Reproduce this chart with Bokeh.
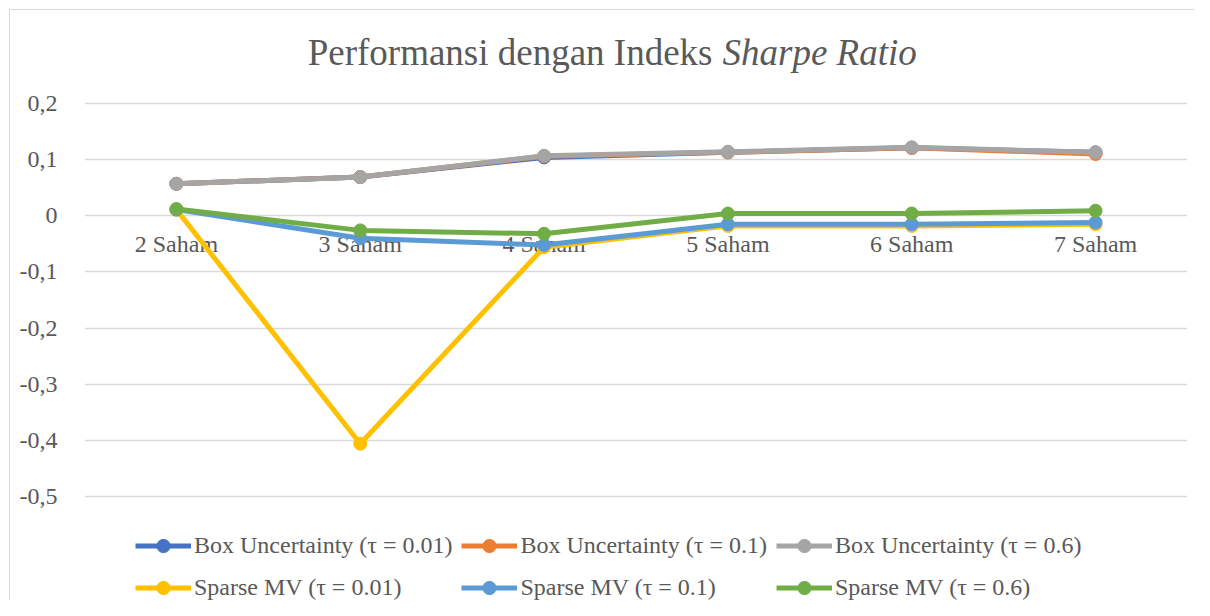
from bokeh.plotting import figure
from bokeh.models import (FactorRange, FixedTicker, CustomJSTickFormatter, Label,
                          Legend, LegendItem, ColumnDataSource)
from bokeh.core.properties import value
from bokeh.embed import file_html
from bokeh.resources import INLINE

categories = ["2 Saham", "3 Saham", "4 Saham", "5 Saham", "6 Saham", "7 Saham"]
box_001 = [0.057, 0.069, 0.104, 0.113, 0.121, 0.113]
box_01 = [0.057, 0.069, 0.106, 0.113, 0.121, 0.110]
box_06 = [0.057, 0.069, 0.107, 0.114, 0.122, 0.113]
sparse_001 = [0.011, -0.406, -0.056, -0.018, -0.018, -0.015]
sparse_01 = [0.011, -0.040, -0.052, -0.015, -0.015, -0.012]
sparse_06 = [0.012, -0.026, -0.032, 0.004, 0.004, 0.009]
y_ticks = [-0.5, -0.4, -0.3, -0.2, -0.1, 0.0, 0.1, 0.2]

series = [
    ("Box Uncertainty (τ = 0.01)", box_001, "#4472C4"),
    ("Box Uncertainty (τ = 0.1)", box_01, "#ED7D31"),
    ("Box Uncertainty (τ = 0.6)", box_06, "#A5A5A5"),
    ("Sparse MV (τ = 0.01)", sparse_001, "#FFC000"),
    ("Sparse MV (τ = 0.1)", sparse_01, "#5B9BD5"),
    ("Sparse MV (τ = 0.6)", sparse_06, "#70AD47"),
]

FONT = "Liberation Serif"
TXT = "#595959"
W, H = 1194, 600
TOP_PAD, BOT_PAD = 103, 104          # pixels above 0.2 / below -0.5 (title, legend)
px_per_unit = (H - TOP_PAD - BOT_PAD) / (y_ticks[-1] - y_ticks[0])
y_hi = y_ticks[-1] + TOP_PAD / px_per_unit
y_lo = y_ticks[0] - BOT_PAD / px_per_unit

p = figure(width=W, height=H, x_range=FactorRange(*categories, range_padding=0),
           y_range=(y_lo, y_hi), output_backend="svg", toolbar_location=None,
           x_axis_location=None, min_border_left=84, min_border_right=7,
           min_border_top=0, min_border_bottom=0)
p.outline_line_color = None
p.background_fill_color = None
p.border_fill_color = None
p.styles = {"box-shadow": "inset 9px 9px 0 0 #FFFFFF, inset 10px 10px 0 0 #D9D9D9"}

p.yaxis.ticker = FixedTicker(ticks=y_ticks)
p.yaxis.formatter = CustomJSTickFormatter(code="""
if (Math.abs(tick) < 1e-9) { return "0"; }
return tick.toFixed(1).replace('.', ',');
""")
p.yaxis.axis_line_color = None
p.yaxis.major_tick_line_color = None
p.yaxis.minor_tick_line_color = None
p.yaxis.major_label_standoff = 21
p.yaxis.major_label_text_font = FONT
p.yaxis.major_label_text_font_size = "24px"
p.yaxis.major_label_text_color = TXT
p.ygrid.ticker = FixedTicker(ticks=y_ticks)
p.ygrid.grid_line_color = "#D9D9D9"
p.ygrid.grid_line_width = 1.3
p.xgrid.grid_line_color = None

# category labels sitting at y = 0
cat_src = ColumnDataSource(dict(x=categories, y=[0] * len(categories), t=categories))
p.text(x="x", y="y", text="t", source=cat_src, y_offset=28, text_align="center",
       text_baseline="middle", text_font=value(FONT), text_font_size="24px",
       text_color=TXT)

items = []
for name, vals, color in series:
    src = ColumnDataSource(dict(x=categories, y=vals))
    r1 = p.line("x", "y", source=src, line_color=color, line_width=5, line_join="round")
    r2 = p.scatter("x", "y", source=src, size=13, fill_color=color, line_color=color)
    items.append(LegendItem(label=name, renderers=[r1, r2]))

legend = Legend(items=items, ncols=3, orientation="horizontal", location=(51, -4),
                glyph_width=56, glyph_height=33, label_height=33, label_standoff=3,
                spacing=9, padding=0, margin=0, border_line_color=None,
                background_fill_alpha=0, label_text_font=FONT,
                label_text_font_size="24px", label_text_color=TXT)
p.add_layout(legend, "center")

t1 = Label(x=628, y=548, x_units="screen", y_units="screen",
           text="Performansi dengan Indeks", text_align="right", text_baseline="middle",
           text_font=FONT, text_font_size="37px", text_color=TXT)
t2 = Label(x=638, y=548, x_units="screen", y_units="screen",
           text="Sharpe Ratio", text_align="left", text_baseline="middle",
           text_font=FONT, text_font_size="37px", text_font_style="italic",
           text_color=TXT)
p.add_layout(t1)
p.add_layout(t2)

open("out.html", "w").write(file_html(p, INLINE))
